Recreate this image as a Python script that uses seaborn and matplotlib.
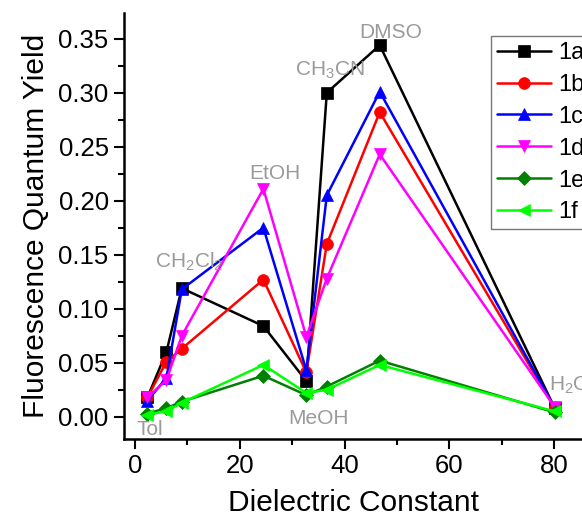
import numpy as np
import pandas as pd
import matplotlib
matplotlib.use("Agg")
import matplotlib.pyplot as plt
import seaborn as sns

# dielectric constants of the solvents (Tol, EtOAc, CH2Cl2, EtOH, MeOH, CH3CN, DMSO, H2O)
eps = [2.38, 6.0, 8.93, 24.5, 32.7, 36.6, 46.7, 80.1]

qy_1a = [0.018, 0.060, 0.119, 0.084, 0.033, 0.300, 0.344, 0.008]
qy_1b = [0.018, 0.051, 0.063, 0.127, 0.041, 0.160, 0.282, 0.008]
qy_1c = [0.015, 0.036, 0.118, 0.175, 0.043, 0.205, 0.301, 0.008]
qy_1d = [0.018, 0.034, 0.075, 0.211, 0.074, 0.128, 0.243, 0.009]
qy_1e = [0.003, 0.008, 0.014, 0.038, 0.020, 0.028, 0.052, 0.004]
qy_1f = [0.002, 0.005, 0.013, 0.048, 0.022, 0.025, 0.048, 0.005]

names = ["1a", "1b", "1c", "1d", "1e", "1f"]
colors = ["#000000", "#FF0000", "#0000FF", "#FF00FF", "#008000", "#00FF00"]
markers = ["s", "o", "^", "v", "D", "<"]

solvents = ["Tol", r"CH$_2$Cl$_2$", "EtOH", "MeOH", r"CH$_3$CN", "DMSO", r"H$_2$O"]
solv_x = [2.9, 10.3, 26.7, 35.1, 37.2, 48.7, 79.0]
solv_y = [-0.012, 0.1435, 0.225, -0.002, 0.321, 0.356, 0.029]

rows = []
for n, ys in zip(names, [qy_1a, qy_1b, qy_1c, qy_1d, qy_1e, qy_1f]):
    for x, y in zip(eps, ys):
        rows.append({"eps": x, "qy": y, "cpd": n})
df = pd.DataFrame(rows)

sns.set_style("ticks")
plt.rcParams["font.family"] = ["Liberation Sans", "DejaVu Sans"]
plt.rcParams["mathtext.default"] = "regular"
plt.rcParams["text.color"] = "black"
plt.rcParams["axes.labelcolor"] = "black"
plt.rcParams["xtick.color"] = "black"
plt.rcParams["ytick.color"] = "black"
plt.rcParams["axes.edgecolor"] = "black"

fig = plt.figure(figsize=(5.82, 5.29), dpi=100)
ax = fig.add_axes([124 / 582, 90 / 529, 1 - 124 / 582, (439 - 12.7) / 529])

for n, c, m in zip(names, colors, markers):
    sub = df[df["cpd"] == n]
    sns.lineplot(data=sub, x="eps", y="qy", ax=ax, color=c, marker=m,
                 markersize=8.5 if m != "D" else 7, markeredgecolor=c,
                 markeredgewidth=0.5, linewidth=1.8, label=n)

for t, x, y in zip(solvents, solv_x, solv_y):
    ha = "left" if t == r"H$_2$O" else "center"
    ax.text(x, y, t, color="#9a9a9a", fontsize=15, ha=ha, va="center")

ax.set_xlim(-2.1, 85.3)
ax.set_ylim(-0.0206, 0.3741)
ax.set_xticks([0, 20, 40, 60, 80])
ax.set_xticks(np.arange(10, 90, 20), minor=True)
ax.set_yticks(np.arange(0, 0.36, 0.05))
ax.set_yticks(np.arange(0.025, 0.37, 0.05), minor=True)
ax.yaxis.set_major_formatter(matplotlib.ticker.FormatStrFormatter("%.2f"))

ax.set_xlabel("Dielectric Constant", fontsize=21.5, labelpad=8)
ax.set_ylabel("Fluorescence Quantum Yield", fontsize=21.5, labelpad=6)
ax.tick_params(which="major", length=7, width=1.5, labelsize=18.5, direction="out", pad=4)
ax.tick_params(which="minor", length=4, width=1.5, direction="out")
for s in ["left", "bottom"]:
    ax.spines[s].set_linewidth(1.8)
sns.despine(ax=ax)

leg = ax.legend(loc="upper left", bbox_to_anchor=(491 / 582, 1 - 36 / 529),
                bbox_transform=fig.transFigure, borderaxespad=0, fontsize=17,
                frameon=True, fancybox=False, edgecolor="#555555",
                handlelength=2.3, handletextpad=0.3, labelspacing=0.42,
                borderpad=0.25)
leg.get_frame().set_linewidth(1.0)

fig.savefig("out.png", dpi=100)
